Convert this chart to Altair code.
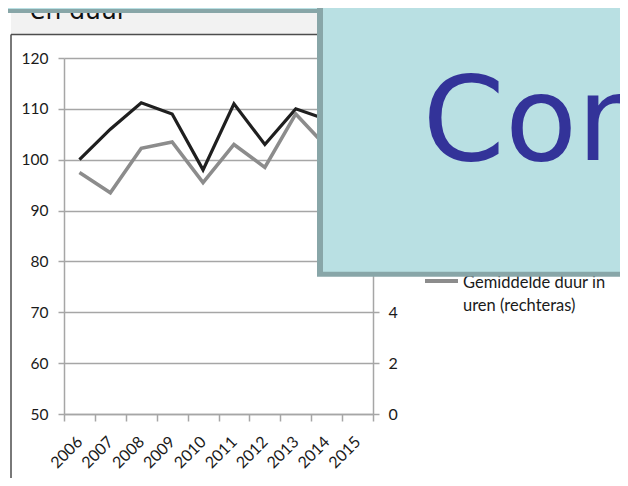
import altair as alt
import pandas as pd

# ---- data ----
years = ["2006", "2007", "2008", "2009", "2010", "2011", "2012", "2013", "2014", "2015"]
index_values = [100.0, 106.0, 111.2, 109.0, 98.0, 111.0, 103.0, 110.0, 107.9, None]
hours_values = [9.5, 8.7, 10.45, 10.7, 9.1, 10.6, 9.7, 11.8, 10.5, None]
left_ticks = [50, 60, 70, 80, 90, 100, 110, 120]
right_ticks = [0, 2, 4, 6, 8, 10, 12, 14]
legend_lines = ["Gemiddelde duur in", "uren (rechteras)"]
title_fragment = "en duur"
overlay_text = "Con"

df = pd.DataFrame({"year": years, "index": index_values, "hours": hours_values})

W, H = 309, 356
BOX = "#b9e0e3"
BOX_EDGE = "#88a6a8"
GRID = "#a6a6a6"
one = alt.Data(values=[{}])

x_enc = alt.X(
    "year:O",
    scale=alt.Scale(type="band", domain=years, paddingInner=0, paddingOuter=0),
    bandPosition=0.5,
    axis=alt.Axis(
        title=None, tickBand="extent", tickSize=7, tickColor=GRID, tickWidth=1.5,
        domainColor=GRID, domainWidth=1.5, labelAngle=315, labelAlign="right",
        labelBaseline="middle", labelPadding=18, labelFont="Lato", labelFontSize=16,
        labelColor="#1a1a1a", grid=False,
    ),
)

left_line = alt.Chart(df).mark_line(color="#1f1f1f", strokeWidth=3.2).encode(
    x=x_enc,
    y=alt.Y(
        "index:Q",
        scale=alt.Scale(domain=[50, 120], nice=False, zero=False),
        axis=alt.Axis(
            title=None, values=left_ticks, orient="left", grid=True, gridColor=GRID,
            gridWidth=1.5, domainColor=GRID, domainWidth=1.5, tickColor=GRID,
            tickWidth=1.5, tickSize=6, labelPadding=10, labelFont="Lato",
            labelFontSize=15.5, labelColor="#1a1a1a",
        ),
    ),
)

right_line = alt.Chart(df).mark_line(color="#8c8c8c", strokeWidth=3.6).encode(
    x=x_enc,
    y=alt.Y(
        "hours:Q",
        scale=alt.Scale(domain=[0, 14], nice=False),
        axis=alt.Axis(
            title=None, values=right_ticks, orient="right", grid=False,
            domainColor=GRID, domainWidth=1.5, tickColor=GRID, tickWidth=1.5,
            tickSize=6, labelPadding=9, labelFont="Lato", labelFontSize=16,
            labelColor="#1a1a1a",
        ),
    ),
)


def rect(x1, x2, y1, y2, color):
    return alt.Chart(one).mark_rect(color=color).encode(
        x=alt.value(x1), x2=alt.value(x2), y=alt.value(y1), y2=alt.value(y2)
    )


def rule(x1, x2, y1, y2, color, w):
    return alt.Chart(one).mark_rule(color=color, strokeWidth=w).encode(
        x=alt.value(x1), x2=alt.value(x2), y=alt.value(y1), y2=alt.value(y2)
    )


def text(t, x, y, font, size, color):
    return alt.Chart(one).mark_text(
        text=t, font=font, fontSize=size, color=color, align="left",
        baseline="alphabetic",
    ).encode(x=alt.value(x), y=alt.value(y))


gray_band = rect(-53, 560, -45, -23.5, "#f2f2f2")
frame_h = rule(-53, 560, -23.5, -23.5, "#4d4d4d", 1.5)
frame_v = rule(-53, -53, -23.5, 430, "#4d4d4d", 1.5)
title_txt = text(title_fragment, -34, -39, "DejaVu Sans", 25, "#111111")
top_edge = rect(-56, 262, -50, -45, BOX_EDGE)
top_fill = rect(-56, 253, -50, -49, BOX)

legend_rule = rule(361, 394, 223, 223, "#8c8c8c", 4)
legend_t1 = text(legend_lines[0], 399, 230, "Lato", 16.5, "#1a1a1a")
legend_t2 = text(legend_lines[1], 399, 252.7, "Lato", 16.5, "#1a1a1a")

box_edge = rect(253, 560, -50, 218.7, BOX_EDGE)
box_fill = rect(259, 560, -50, 213.7, BOX)
con_txt = text(overlay_text, 358.5, 102, "DejaVu Sans", 118, "#333399")

chart = alt.layer(
    gray_band, frame_h, frame_v, title_txt, top_edge, top_fill,
    left_line, right_line,
    legend_rule, legend_t1, legend_t2,
    box_edge, box_fill, con_txt,
).resolve_scale(y="independent").properties(
    width=W, height=H,
    autosize=alt.AutoSizeParams(type="none"),
    padding={"left": 56, "top": 50, "right": 247, "bottom": 64},
    background="white",
).configure_view(stroke=None)

chart.save("out.html", embed_options={"renderer": "svg", "actions": False})
